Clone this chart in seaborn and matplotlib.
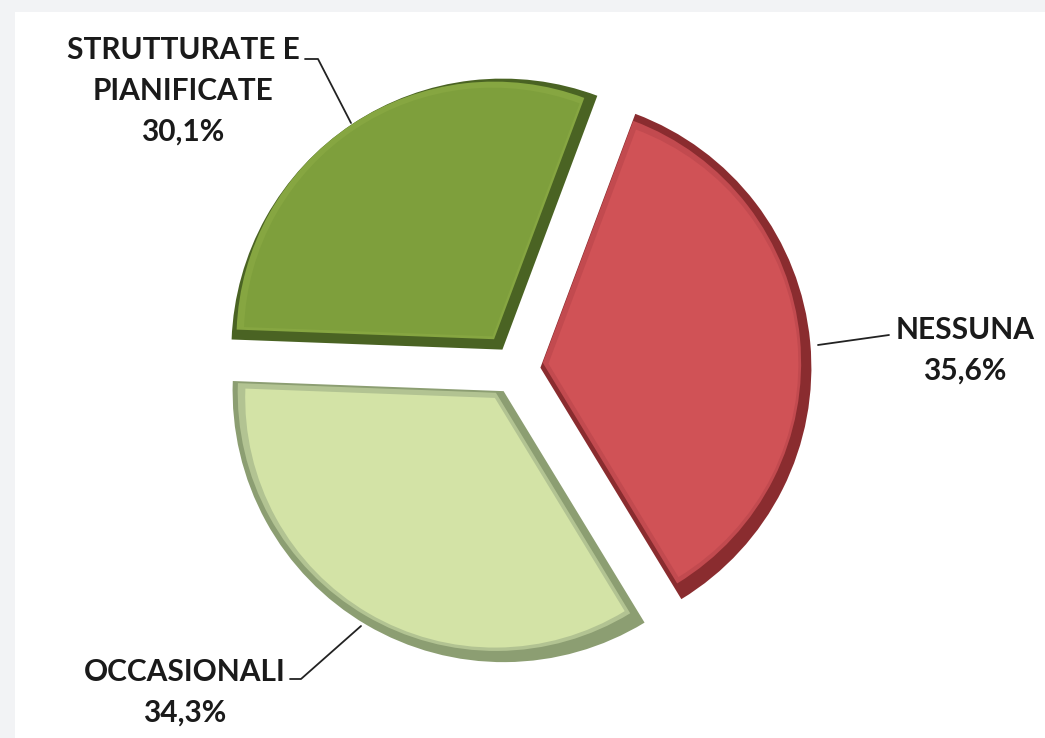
import matplotlib
matplotlib.use("Agg")
import numpy as np
import matplotlib.pyplot as plt
from matplotlib.patches import Rectangle
import seaborn as sns

# dati del grafico
categorie = ["NESSUNA", "OCCASIONALI", "STRUTTURATE E\nPIANIFICATE"]
valori = [35.6, 34.3, 30.1]
etichette = ["35,6%", "34,3%", "30,1%"]
colori = ["#d05256", "#d3e3a6", "#7e9f3c"]
colori_scuri = ["#8a2c2f", "#8c9e72", "#4a6323"]
colori_medi = ["#c24a4f", "#b2c392", "#86a641"]

sns.set_theme(style="white")
plt.rcParams["font.family"] = ["Lato", "DejaVu Sans"]

W, H = 1045, 738


def yd(y_img):
    # coordinate immagine -> coordinate dati
    return H - y_img


fig = plt.figure(figsize=(W / 100, H / 100), dpi=100, facecolor="#f2f3f5")
ax = fig.add_axes([0, 0, 1, 1])
ax.patch.set_alpha(0)

# pannello bianco
ax.add_patch(Rectangle((15, 0), W - 15, yd(12), facecolor="white",
                       edgecolor="none", zorder=0))

cx, cy = 516, yd(370)
r = 271
d = 24.5
start = 69.5

fette = np.array(valori) / sum(valori) * 360
semi = np.radians(fette / 2)


def disegna(palette, rientro, spost, z):
    # ogni fetta rimpicciolita di "rientro" e spostata verso l'alto a sinistra
    esplodi = d + rientro / np.sin(semi)
    raggi = r - rientro - (esplodi - d)
    for i in range(3):
        ax.pie(valori, colors=[palette[i] if j == i else "none" for j in range(3)],
               explode=list(esplodi), radius=raggi[i],
               center=(cx - spost, cy + spost), startangle=start,
               counterclock=False, frame=True,
               wedgeprops=dict(zorder=z, linewidth=0))


# bordo scuro, bordo medio (luce in alto a sinistra), faccia
disegna(colori_scuri, 0, 0, 1)
disegna(colori_medi, 6, 6 / np.sqrt(2), 2)
disegna(colori, 10, 3, 3)

ax.set_xlim(0, W)
ax.set_ylim(0, H)
ax.axis("off")

stile = dict(fontsize=21.5, fontweight="bold", color="#1a1a1a", ha="center",
             va="center", linespacing=1.55, zorder=5)
linea = dict(color="#222222", lw=1.3, zorder=5)

# NESSUNA
ax.text(965, yd(350), f"{categorie[0]}\n{etichette[0]}", **stile)
ax.plot([818, 889], [yd(345), yd(335)], **linea)

# OCCASIONALI
ax.text(185, yd(692), f"{categorie[1]}\n{etichette[1]}", **stile)
ax.plot([290, 301, 361], [yd(679), yd(679), yd(626)], **linea)

# STRUTTURATE E PIANIFICATE
ax.text(183, yd(91), f"{categorie[2]}\n{etichette[2]}", **stile)
ax.plot([305, 318, 351], [yd(59), yd(59), yd(123)], **linea)

fig.savefig("out.png", dpi=100, facecolor=fig.get_facecolor())
